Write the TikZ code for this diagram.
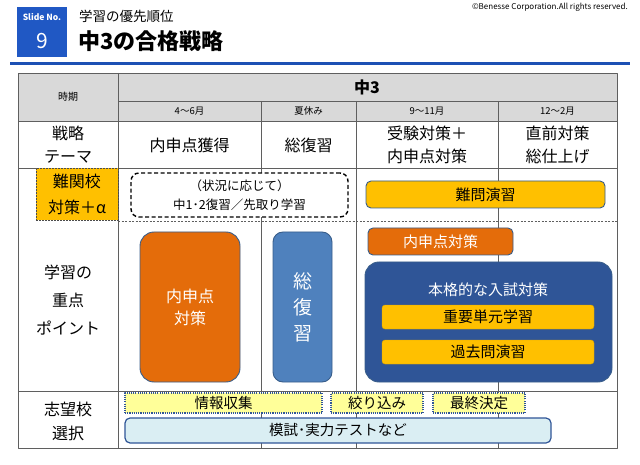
\documentclass[tikz,border=0pt]{standalone}
\usepackage{fontspec}
\setmainfont{Noto Sans CJK JP}
\definecolor{slideblue}{RGB}{32,88,196}
\definecolor{ruleblue}{RGB}{28,80,180}
\definecolor{headgray}{RGB}{217,217,217}
\definecolor{gridgray}{RGB}{95,95,95}
\definecolor{orangebox}{RGB}{228,108,10}
\definecolor{bluebox}{RGB}{79,129,189}
\definecolor{navybox}{RGB}{47,85,151}
\definecolor{edgeblue}{RGB}{56,93,138}
\definecolor{goldbox}{RGB}{255,192,0}
\definecolor{paleyellow}{RGB}{255,255,153}
\definecolor{paleblue}{RGB}{218,238,243}
\begin{document}
\begin{tikzpicture}[x=1pt,y=-1pt,line join=round,
	lbl/.style={align=center,inner sep=0pt,font=\fontsize{16}{23}\selectfont},
	sub/.style={inner sep=0pt,font=\fontsize{9.5}{10}\selectfont},
	grid/.style={gridgray,line width=0.8pt},
	box/.style={draw=edgeblue,line width=0.9pt,rounded corners=5pt,inner sep=0pt,align=center,font=\fontsize{15}{20}\selectfont},
	tall/.style={box,rounded corners=14pt,text=white,minimum height=150pt,font=\fontsize{16}{22}\selectfont},
	note/.style={draw=navybox,fill=paleyellow,dash pattern=on 1.1pt off 1.1pt,line width=1.2pt,inner sep=0pt,minimum height=20pt,font=\fontsize{14.5}{16}\selectfont}]
	\useasboundingbox (0,0) rectangle (640,465);
	% header
	\node[fill=slideblue,minimum size=50pt,inner sep=0pt] (slide) at (42,32) {};
	\node[text=white,inner sep=0pt,font=\fontsize{8.5}{10}\selectfont\bfseries] (slidelbl) at (42,17) {Slide No.};
	\node[text=white,inner sep=0pt,font=\fontsize{21}{24}\selectfont] (slidenum) at (42,41) {9};
	\node[anchor=west,inner sep=0pt,font=\fontsize{13.5}{15}\selectfont] (subtitle) at (79,16) {学習の優先順位};
	\node[anchor=west,inner sep=0pt,font=\fontsize{22}{24}\selectfont\bfseries] (title) at (78,41) {中3の合格戦略};
	\node[anchor=north east,inner sep=0pt,font=\fontsize{8}{9}\selectfont] (copy) at (628,3) {©Benesse Corporation.All  rights reserved.};
	\draw[ruleblue,line width=3pt] (10,63.5) -- (630,63.5);
	% table
	\fill[headgray] (18,73) rectangle (617,121);
	\draw[grid] (18,73) rectangle (617,448);
	\draw[grid] (118,73) -- (118,448) (118,101) -- (617,101) (18,121) -- (617,121)
		(18,168) -- (617,168) (18,391) -- (617,391);
	\foreach \c in {261,356,498} \draw[grid] (\c,101) -- (\c,448);
	\draw[grid,dash pattern=on 2pt off 1.5pt] (118,221) -- (617,221);
	\node[inner sep=0pt,font=\fontsize{10}{11}\selectfont] (period) at (68,97) {時期};
	\node[inner sep=0pt,font=\fontsize{16}{17}\selectfont\bfseries] (grade) at (367,87) {中3};
	\foreach \x/\t/\n in {189.5/4～6月/m1,308.5/夏休み/m2,427/9～11月/m3,557.5/12～2月/m4}
		\node[sub] (\n) at (\x,111) {\t};
	\node[lbl] (theme) at (68,144.5) {戦略\\テーマ};
	\node[lbl] (theme1) at (189.5,145) {内申点獲得};
	\node[lbl] (theme2) at (308.5,145) {総復習};
	\node[lbl] (theme3) at (427,144.5) {受験対策＋\\内申点対策};
	\node[lbl] (theme4) at (557.5,144.5) {直前対策\\総仕上げ};
	% advanced
	\node[box,fill=goldbox,draw=black!70,line width=0.6pt,dash pattern=on 2pt off 1pt,rounded corners=0pt,
		minimum width=82pt,minimum height=52pt,font=\fontsize{16}{26}\selectfont] (hard) at (77,194) {難関校\\対策＋α};
	\node[draw=black,fill=white,line width=1.4pt,dash pattern=on 4pt off 2.5pt,rounded corners=8pt,align=center,inner sep=0pt,
		minimum width=217pt,minimum height=44pt,font=\fontsize{12.5}{19}\selectfont] (option) at (239.5,195) {（状況に応じて）\\中1･2復習／先取り学習};
	\node[box,fill=goldbox,minimum width=239pt,minimum height=27pt] (drill) at (485.5,194.5) {難問演習};
	% focus
	\node[lbl,font=\fontsize{16}{28}\selectfont] (focus) at (68,300) {学習の\\重点\\ポイント};
	\node[tall,fill=orangebox,minimum width=100pt] (naishin) at (190,307) {内申点\\対策};
	\node[tall,fill=bluebox,minimum width=59pt,rounded corners=10pt,font=\fontsize{19}{26}\selectfont] (review) at (302.5,307) {総\\復\\習};
	\node[box,fill=orangebox,text=white,minimum width=145pt,minimum height=27pt] (naishin2) at (440.5,241.5) {内申点対策};
	\node[box,fill=navybox,rounded corners=14pt,minimum width=247pt,minimum height=120pt] (exam) at (488.5,322) {};
	\node[text=white,inner sep=0pt,font=\fontsize{15}{20}\selectfont] (examlbl) at (488,290) {本格的な入試対策};
	\node[box,fill=goldbox,draw=goldbox!85!black,line width=0.4pt,rounded corners=3pt,minimum width=212pt,minimum height=24pt] (unit) at (488,317) {重要単元学習};
	\node[box,fill=goldbox,draw=goldbox!85!black,line width=0.4pt,rounded corners=3pt,minimum width=212pt,minimum height=24pt] (past) at (488,352) {過去問演習};
	% choice
	\node[lbl,font=\fontsize{16}{24}\selectfont] (choice) at (68,421) {志望校\\選択};
	\node[note,minimum width=197pt] (info) at (223.5,403) {情報収集};
	\node[note,minimum width=92pt] (narrow) at (377,403) {絞り込み};
	\node[note,minimum width=92pt] (decide) at (479,403) {最終決定};
	\node[box,fill=paleblue,draw=navybox,line width=1.2pt,minimum width=426pt,minimum height=25pt,font=\fontsize{14.5}{16}\selectfont] (mock) at (338,430.5) {模試･実力テストなど};
\end{tikzpicture}
\end{document}
